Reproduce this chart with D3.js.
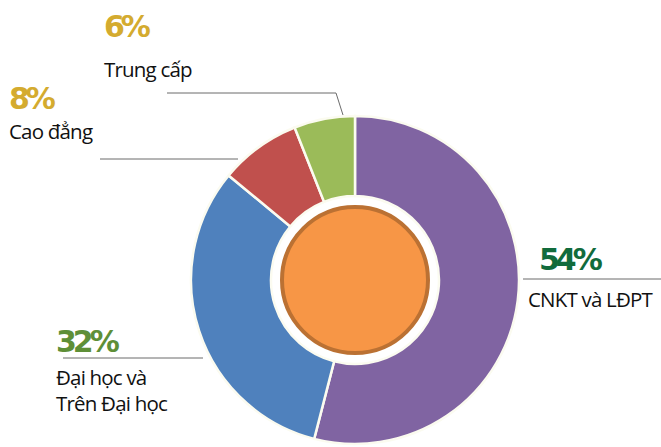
<!DOCTYPE html>
<html>
<head>
<meta charset="utf-8">
<script src="https://cdn.jsdelivr.net/npm/d3@7"></script>
<style>
  body { margin: 0; background: #fff; }
  svg { display: block; }
</style>
</head>
<body>
<div id="chart"></div>
<script>
  // data
  const categories = ["CNKT và LĐPT", "Đại học và|Trên Đại học", "Cao đẳng", "Trung cấp"];
  const values = [54, 32, 8, 6];
  const pctLabels = ["54%", "32%", "8%", "6%"];
  const sliceColors = ["#8064a2", "#4f81bd", "#c0504d", "#9bbb59"];
  const pctColors = ["#116b3c", "#5e8f37", "#d4ab2f", "#d4ab2f"];

  var width = 661, height = 447;
  var cx = 355, cy = 280;
  var outerR = 164, innerR = 84;

  var svg = d3.select("#chart")
    .append("svg")
    .attr("width", width)
    .attr("height", height);

  var g = svg.append("g")
    .attr("transform", "translate(" + cx + "," + cy + ")");

  var pie = d3.pie().sort(null).value(d => d);
  var arcs = pie(values);

  var arc = d3.arc().innerRadius(innerR).outerRadius(outerR);

  // slices
  g.selectAll("path.slice")
    .data(arcs)
    .enter()
    .append("path")
    .attr("class", "slice")
    .attr("d", arc)
    .attr("fill", (d, i) => sliceColors[i])
    .attr("stroke", "#fbfbf0")
    .attr("stroke-width", 2.5);

  // orange centre disc
  g.append("circle")
    .attr("r", 73)
    .attr("fill", "#f79646")
    .attr("stroke", "#bb7133")
    .attr("stroke-width", 4);

  // label layout: pct position, name position, leader line points
  var labelPos = [
    {px: 539, py: 270, nx: 528, ny: 307, line: [[523, 279], [661, 279]]},
    {px: 56, py: 352, nx: 56, ny: 385, line: [[63, 358], [203, 358]]},
    {px: 9, py: 109, nx: 9, ny: 139, line: [[100, 159], [238, 159]]},
    {px: 104, py: 37, nx: 104, ny: 77, line: [[167, 93], [336, 93], [343, 115]]}
  ];

  var lineGen = d3.line();

  svg.selectAll("path.leader")
    .data(labelPos)
    .enter()
    .append("path")
    .attr("class", "leader")
    .attr("d", d => lineGen(d.line))
    .attr("fill", "none")
    .attr("stroke", "#6b6b6b")
    .attr("stroke-width", 1);

  svg.selectAll("text.pct")
    .data(labelPos)
    .enter()
    .append("text")
    .attr("class", "pct")
    .attr("x", d => d.px)
    .attr("y", d => d.py)
    .attr("fill", (d, i) => pctColors[i])
    .style("font-family", "'DejaVu Sans', sans-serif")
    .style("font-weight", "bold")
    .style("font-size", "30px")
    .style("letter-spacing", "-4px")
    .text((d, i) => pctLabels[i]);

  // category names, one text element per line
  labelPos.forEach(function(d, i) {
    categories[i].split("|").forEach(function(s, j) {
      svg.append("text")
        .attr("class", "name")
        .attr("x", d.nx)
        .attr("y", d.ny + j * 26)
        .attr("fill", "#111")
        .style("font-family", "'Open Sans', sans-serif")
        .style("font-size", "20.5px")
        .style("letter-spacing", "-0.8px")
        .text(s);
    });
  });
</script>
</body>
</html>
